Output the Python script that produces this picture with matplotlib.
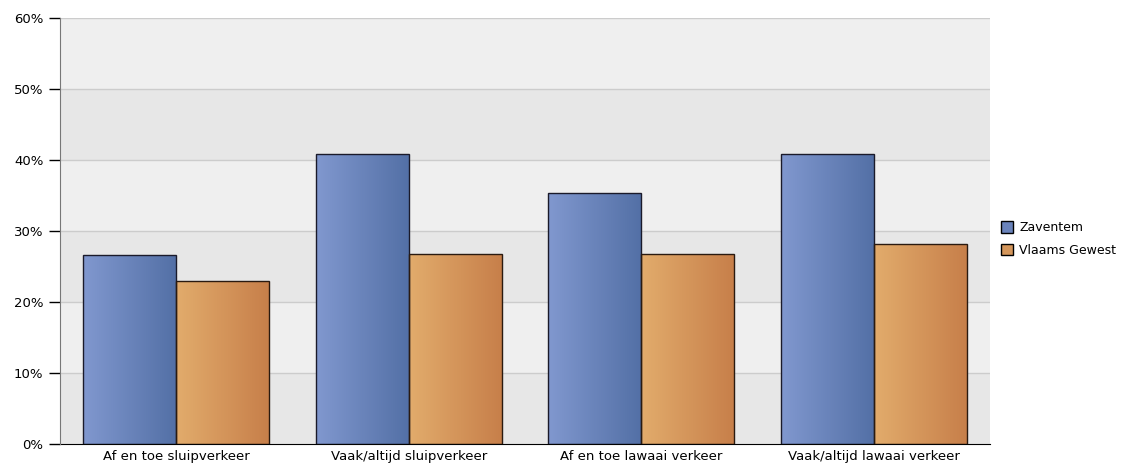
import numpy as np
import matplotlib.pyplot as plt
from matplotlib.colors import LinearSegmentedColormap
from matplotlib.patches import Patch

categories = ["Af en toe sluipverkeer", "Vaak/altijd sluipverkeer",
              "Af en toe lawaai verkeer", "Vaak/altijd lawaai verkeer"]
zaventem = [26.6, 40.8, 35.4, 40.9]
vlaams = [22.9, 26.7, 26.7, 28.2]
series_names = ["Zaventem", "Vlaams Gewest"]
yticks = [0, 10, 20, 30, 40, 50, 60]

blue_cmap = LinearSegmentedColormap.from_list("b", ["#8198cf", "#5370a6"])
orange_cmap = LinearSegmentedColormap.from_list("o", ["#e2ac6c", "#c77f4a"])

fig = plt.figure(figsize=(11.23, 4.65), dpi=100)
ax = fig.add_axes([60 / 1123, 21 / 465, 930 / 1123, 426 / 465])

# alternating background bands
for i in range(len(yticks) - 1):
    col = "#e7e7e7" if i % 2 == 0 else "#efefef"
    ax.axhspan(yticks[i], yticks[i + 1], color=col, zorder=0, lw=0)
for t in yticks[1:]:
    ax.axhline(t, color="#cccccc", lw=1, zorder=1)

x = np.arange(len(categories))
w = 0.4
grad = np.linspace(0, 1, 256).reshape(1, -1)


def gradient_bars(xs, vals, cmap, edge):
    bars = ax.bar(xs, vals, width=w, facecolor="none", edgecolor=edge,
                  lw=1, zorder=3)
    for b in bars:
        x0, y0 = b.get_x(), b.get_y()
        im = ax.imshow(grad, cmap=cmap, aspect="auto", zorder=2,
                       extent=[x0, x0 + b.get_width(), y0, y0 + b.get_height()])
        im.set_clip_path(b)
    return bars


gradient_bars(x - w / 2, zaventem, blue_cmap, "#1a1a2a")
gradient_bars(x + w / 2, vlaams, orange_cmap, "#2a1a10")

ax.set_xlim(-0.5, len(categories) - 0.5)
ax.set_ylim(0, 60)
ax.set_yticks(yticks)
ax.set_yticklabels([f"{t}%" for t in yticks], fontsize=9.5)
ax.set_xticks(x)
ax.set_xticklabels(categories, fontsize=9.5)
ax.tick_params(axis="x", length=0, pad=4)
ax.tick_params(axis="y", length=8, width=1, color="black", pad=4)
ax.spines["top"].set_visible(False)
ax.spines["right"].set_visible(False)
ax.spines["left"].set_color("#777777")
ax.spines["bottom"].set_color("black")
ax.spines["left"].set_zorder(4)

handles = [Patch(facecolor="#6a83bb", edgecolor="black", label=series_names[0]),
           Patch(facecolor="#d4965b", edgecolor="black", label=series_names[1])]
fig.legend(handles=handles, loc="center left", bbox_to_anchor=(1001 / 1123, 226 / 465),
           frameon=False, fontsize=9, handlelength=1.0, handleheight=1.0,
           handletextpad=0.45, labelspacing=0.75, borderpad=0, borderaxespad=0)

fig.savefig("out.png", dpi=100)
